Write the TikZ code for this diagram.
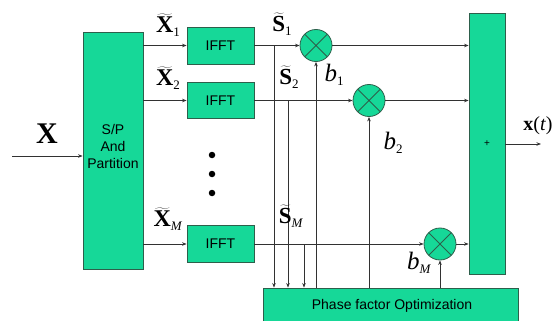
\documentclass[tikz,border=0pt]{standalone}
\usepackage{fontspec}
\setmainfont{Liberation Serif}
\newfontfamily\arialf{Liberation Sans}
\usetikzlibrary{arrows.meta,calc}
\definecolor{boxg}{RGB}{22,216,152}
\definecolor{boxb}{RGB}{45,95,75}
\definecolor{linec}{RGB}{50,50,50}
\newcommand\sbs[1]{\raisebox{-4pt}{\fontsize{13}{13}\selectfont #1}}
\newcommand\tld[1]{$\widetilde{\hbox{\bfseries #1}}$}
\tikzset{
  gbox/.style={draw=boxb,fill=boxg,line width=0.8pt,inner sep=0pt,font=\arialf\fontsize{14}{17}\selectfont},
  mult/.style={circle,draw=boxb,fill=boxg,line width=0.8pt,minimum size=32pt,inner sep=0pt,
    path picture={\draw[boxb,line width=0.8pt] (path picture bounding box.north west)--(path picture bounding box.south east)
      (path picture bounding box.north east)--(path picture bounding box.south west);}},
  conn/.style={draw=linec,line width=0.7pt,-{Stealth[length=4.5pt,width=3.5pt]}},
  lab/.style={inner sep=0pt},
  dotn/.style={circle,fill=black,minimum size=6.5pt,inner sep=0pt}
}
\begin{document}
\begin{tikzpicture}[x=1pt,y=-1pt]
\useasboundingbox (0,0) rectangle (560,321);
\clip (0,0) rectangle (560,321);
% boxes
\node[gbox,minimum width=60pt,minimum height=237pt] (sp) at (113,150.5) {};
\node[font=\arialf\fontsize{14}{17}\selectfont,align=center,lab] (spt) at (113,146) {S/P\\And\\Partition};
\node[gbox,minimum width=67pt,minimum height=37pt] (f1) at (220.5,45.5) {IFFT};
\node[gbox,minimum width=67pt,minimum height=36pt] (f2) at (220.5,100.5) {IFFT};
\node[gbox,minimum width=67pt,minimum height=37pt] (fM) at (220.5,244) {IFFT};
\node[gbox,minimum width=36pt,minimum height=261pt] (sum) at (487,143.5) {};
\node[font=\arialf\fontsize{10}{10}\selectfont,lab] (plus) at (487,144) {+};
\node[gbox,minimum width=255pt,minimum height=44pt] (pf) at (390.5,310) {};
\node[font=\arialf\fontsize{14}{17}\selectfont,lab] (pft) at (392,306) {Phase factor Optimization};
% multipliers
\node[mult] (c1) at (316,45.5) {};
\node[mult] (c2) at (369,100.5) {};
\node[mult] (cM) at (440,244) {};
% dots
\node[dotn] (d1) at (212,155) {};
\node[dotn] (d2) at (212,174) {};
\node[dotn] (d3) at (212,193) {};
% input / output
\coordinate (in) at (12,156);
\coordinate (out) at (541,144);
\draw[conn] (in) -- (in -| sp.west);
\draw[conn] (out -| sum.east) -- (out);
% S/P to IFFT
\draw[conn] (f1.west -| sp.east) -- (f1.west);
\draw[conn] (f2.west -| sp.east) -- (f2.west);
\draw[conn] (fM.west -| sp.east) -- (fM.west);
% IFFT to multipliers
\draw[conn] (f1.east) -- (c1.west);
\draw[conn] (f2.east) -- (c2.west);
\draw[conn] (fM.east) -- (cM.west);
% multipliers to sum
\draw[conn] (c1.east) -- (c1.east -| sum.west);
\draw[conn] (c2.east) -- (c2.east -| sum.west);
\draw[conn] (cM.east) -- (cM.east -| sum.west);
% taps to phase optimization
\coordinate (t1) at (274,45.5);
\coordinate (t2) at (288,100.5);
\coordinate (tM) at (304,244);
\draw[conn] (t1) -- (t1 |- pf.north);
\draw[conn] (t2) -- (t2 |- pf.north);
\draw[conn] (tM) -- (tM |- pf.north);
% phase factors to multipliers
\draw[conn] (c1.south |- pf.north) -- (c1.south);
\draw[conn] (c2.south |- pf.north) -- (c2.south);
\draw[conn] (cM.south |- pf.north) -- (cM.south);
% labels
\node[lab,font=\fontsize{30}{30}\selectfont] (lx) at (47,134) {\textbf{X}};
\node[lab,font=\fontsize{24}{24}\selectfont] (lx1) at (168,25) {\tld{X}\sbs{1}};
\node[lab,font=\fontsize{24}{24}\selectfont] (lx2) at (168,78) {\tld{X}\sbs{2}};
\node[lab,font=\fontsize{24}{24}\selectfont] (lxM) at (168,219) {\tld{X}\sbs{\textit{M}}};
\node[lab,font=\fontsize{23}{23}\selectfont] (ls1) at (282,24) {\tld{S}\sbs{1}};
\node[lab,font=\fontsize{23}{23}\selectfont] (ls2) at (289,77) {\tld{S}\sbs{2}};
\node[lab,font=\fontsize{23}{23}\selectfont] (lsM) at (291,216) {\tld{S}\sbs{\textit{M}}};
\node[lab,font=\fontsize{25}{25}\selectfont] (lb1) at (334,75) {\textit{b}\sbs{1}};
\node[lab,font=\fontsize{25}{25}\selectfont] (lb2) at (393,143) {\textit{b}\sbs{2}};
\node[lab,font=\fontsize{25}{25}\selectfont] (lbM) at (419,263) {\textit{b}\sbs{\textit{M}}};
\node[lab,font=\fontsize{20}{20}\selectfont] (lout) at (538,126) {\textbf{x}(\textit{t})};
\end{tikzpicture}
\end{document}
